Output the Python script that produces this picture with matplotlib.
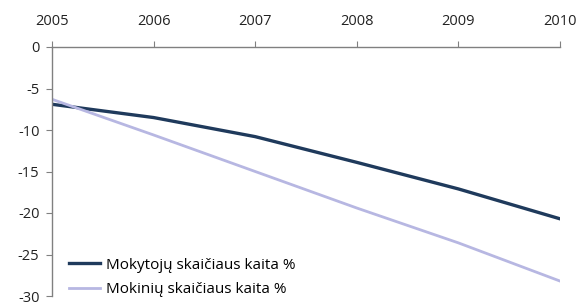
import matplotlib
matplotlib.use('Agg')
import matplotlib.pyplot as plt

# ── Data ───────────────────────────────────────────────────────────────────
years = [2005, 2006, 2007, 2008, 2009, 2010]
mokytoju = [-6.9, -8.5, -10.8, -13.9, -17.1, -20.7]
mokiniu = [-6.3, -10.6, -15.0, -19.4, -23.6, -28.2]
y_ticks = [0, -5, -10, -15, -20, -25, -30]

plt.rcParams['font.family'] = ['Open Sans', 'DejaVu Sans']

W, H = 582, 304
fig = plt.figure(figsize=(W / 100, H / 100), dpi=100)
# axes box in pixels: x 52..560, y 47..296
ax = fig.add_axes([52 / W, 1 - 296 / H, (560 - 52) / W, (296 - 47) / H])

ax.plot(years, mokytoju, color='#1f3a5c', lw=2.4, label='Mokytojų skaičiaus kaita %')
ax.plot(years, mokiniu, color='#b7b7e2', lw=2.0, label='Mokinių skaičiaus kaita %')

ax.set_xlim(2005, 2010)
ax.set_ylim(-30, 0)
ax.set_xticks(years)
ax.set_yticks(y_ticks)
ax.set_yticklabels([str(v) for v in y_ticks])

ax.xaxis.tick_top()
ax.spines['bottom'].set_visible(False)
ax.spines['right'].set_visible(False)
for s in ('top', 'left'):
    ax.spines[s].set_color('#808080')
    ax.spines[s].set_linewidth(1.0)
ax.tick_params(axis='both', colors='#808080', labelcolor='#222222',
               labelsize=10.5, length=4, direction='out')
ax.tick_params(axis='x', pad=9)
ax.tick_params(axis='y', pad=5)

ax.legend(loc='lower left', bbox_to_anchor=(69 / W, 1 - 297 / H),
          bbox_transform=fig.transFigure, frameon=False, fontsize=11,
          handlelength=2.0, handletextpad=0.4, labelspacing=0.6,
          borderpad=0, borderaxespad=0)

fig.savefig('out.png', dpi=100)
